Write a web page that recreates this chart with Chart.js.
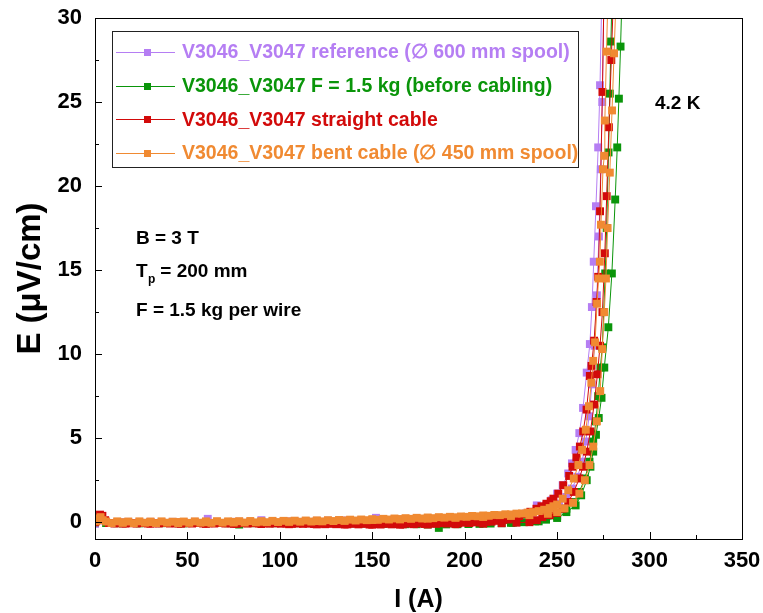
<!DOCTYPE html>
<html>
<head>
<meta charset="utf-8">
<script src="https://cdn.jsdelivr.net/npm/chart.js@4.4.1/dist/chart.umd.min.js"></script>
<style>
  html, body { margin: 0; padding: 0; background: #fff; }
  #wrap { width: 763px; height: 613px; position: relative; }
</style>
</head>
<body>
<div id="wrap"><canvas id="c" width="763" height="613"></canvas></div>
<script>
// Axis ticks
const xTicks = [0, 50, 100, 150, 200, 250, 300, 350];
const xMinorTicks = [25, 75, 125, 175, 225, 275, 325];
const yTicks = [0, 5, 10, 15, 20, 25, 30];
const yMinorTicks = [2.5, 7.5, 12.5, 17.5, 22.5, 27.5];

// Legend labels
const seriesLabels = [
  'V3046_V3047 reference (\u2205 600 mm spool)',
  'V3046_V3047 F = 1.5 kg (before cabling)',
  'V3046_V3047 straight cable',
  'V3046_V3047 bent cable (\u2205 450 mm spool)'
];

// Measured E-I curves, [I (A), E (uV/cm)]
const referenceA = [[0,-0.1],[1.5,0.1],[3,0.2],[6,0.02],[12,0.0],[18,0.02],[24,0.0],[30,0.02],[36,0.0],[42,0.02],[48,0.0],[54,0.02],[61,0.2],[66,0.02],[72,0.01],[78,0.03],[84,0.02],[90,0.12],[96,0.04],[102,0.05],[108,0.06],[114,0.07],[120,0.08],[126,0.09],[132,0.1],[138,0.11],[144,0.12],[152,0.26],[156,0.14],[162,0.16],[168,0.18],[174,0.2],[180,0.22],[186,0.24],[192,0.26],[198,0.29],[204,0.31],[210,0.34],[216,0.37],[222,0.41],[228,0.45],[233,0.52],[236,0.6],[239,1.0],[241,0.8],[244,1.0],[247,1.3],[250,1.7],[253,2.2],[256,2.9],[258,3.5],[260,4.3],[262,5.3],[264,6.8],[266,8.9],[267.7,10.6],[268.8,12.8],[269.8,15.5],[271,18.8],[272.2,22.3],[273.2,26],[274,30.5]];
const referenceB = [[0,0.0],[15,0.0],[30,0.01],[45,0.01],[60,0.02],[75,0.02],[90,0.03],[105,0.05],[120,0.07],[135,0.1],[150,0.12],[165,0.16],[180,0.2],[195,0.25],[210,0.31],[225,0.4],[235,0.5],[242,0.65],[247,0.85],[251,1.1],[255,1.5],[258,2.0],[261,2.7],[263.5,3.6],[265.5,4.8],[267.3,6.3],[268.8,8.2],[270.2,10.5],[271.5,13.5],[272.6,17],[273.6,21],[274.4,25],[275.2,30.5]];

const beforeCablingA = [[0,0.0],[2,0.15],[6,-0.05],[12,-0.06],[18,-0.05],[24,-0.07],[30,-0.05],[36,-0.06],[42,-0.05],[48,-0.07],[54,-0.05],[60,-0.06],[66,-0.05],[72,-0.06],[78,-0.14],[84,-0.06],[90,-0.05],[96,-0.06],[102,-0.05],[108,-0.06],[114,-0.05],[120,-0.06],[126,-0.05],[132,-0.06],[138,-0.07],[144,-0.08],[150,-0.1],[156,-0.1],[162,-0.11],[168,-0.12],[174,-0.12],[180,-0.13],[186,-0.34],[190,-0.13],[196,-0.12],[202,-0.11],[208,-0.1],[214,-0.08],[220,-0.06],[226,-0.03],[232,0.0],[238,0.05],[244,0.15],[250,0.35],[255,0.8],[259,1.2],[262,1.8],[265,2.6],[267.5,3.6],[269.5,4.8],[271,6.0],[272.2,7.5],[273.4,9.2],[274.4,10.4],[275.2,12.5],[276,14.8],[276.8,17.5],[277.8,22],[278.5,25.5],[279.1,28.6],[279.6,31]];
const beforeCablingB = [[0,0.0],[15,-0.06],[30,-0.05],[45,-0.06],[60,-0.05],[75,-0.06],[90,-0.05],[105,-0.06],[120,-0.07],[135,-0.08],[150,-0.1],[165,-0.11],[180,-0.12],[195,-0.11],[210,-0.08],[225,-0.04],[240,0.05],[250,0.25],[255,0.6],[260,1.0],[263,1.6],[266,2.5],[268,3.3],[269.5,4.2],[271,5.2],[272.5,6.2],[274,7.4],[275.5,9.2],[277.7,11.6],[279.6,14.8],[281.4,19.2],[282.5,22.3],[283.4,25.2],[284.3,28.3],[285,31]];

const straightA = [[0.5,0.05],[1.5,0.3],[2.7,0.45],[4,0.38],[5.5,0.12],[7.5,-0.05],[10.5,-0.08],[13.5,-0.05],[16.5,-0.08],[19.5,-0.06],[22.5,-0.08],[25.5,-0.05],[28.5,-0.08],[31.5,-0.06],[34.5,-0.08],[37.5,-0.05],[40.5,-0.08],[43.5,-0.06],[46.5,-0.09],[49.5,-0.06],[52.5,-0.08],[55.5,-0.05],[58.5,-0.08],[61.5,-0.06],[64.5,-0.08],[67.5,-0.05],[70.5,-0.08],[73.5,-0.06],[76.5,-0.1],[79.5,-0.06],[82.5,-0.08],[85.5,-0.06],[88.5,-0.08],[91.5,-0.06],[94.5,-0.09],[97.5,-0.07],[100.5,-0.09],[103.5,-0.08],[106.5,-0.1],[109.5,-0.08],[112.5,-0.1],[115.5,-0.09],[118.5,-0.11],[121.5,-0.09],[124.5,-0.12],[127.5,-0.1],[130.5,-0.12],[133.5,-0.1],[136.5,-0.13],[139.5,-0.1],[142.5,-0.13],[145.5,-0.1],[148.5,-0.14],[151.5,-0.11],[154.5,-0.14],[157.5,-0.1],[160.5,-0.13],[163.5,-0.1],[166.5,-0.13],[169.5,-0.09],[172.5,-0.12],[175.5,-0.08],[178.5,-0.11],[181.5,-0.07],[184.5,-0.1],[187.5,-0.06],[190.5,-0.08],[193.5,-0.05],[196.5,-0.07],[199.5,-0.03],[202.5,-0.05],[205.5,-0.01],[208.5,-0.02],[211.5,0.02],[214.5,0.03],[217.5,0.08],[220.5,0.12],[223.5,0.18],[226.5,0.26],[229.5,0.36],[232.5,0.48],[235.5,0.62],[238.8,0.8],[241.5,0.95],[244.2,1.1],[246.5,1.25],[248,1.4],[250.6,1.7],[253.3,2.2],[256.5,2.75],[258.3,3.3],[260.4,3.85],[262.3,4.5],[264.1,5.4],[265.9,6.7],[267.7,8.7],[268.6,9.3],[270,10.8],[271.3,13.1],[272.2,14.6],[273.2,18.5],[274.5,25.6],[275.2,30.5]];
const straightB = [[0,0.0],[15,-0.08],[30,-0.09],[45,-0.08],[60,-0.1],[75,-0.1],[90,-0.11],[105,-0.12],[120,-0.13],[135,-0.14],[150,-0.15],[165,-0.15],[180,-0.14],[195,-0.12],[210,-0.09],[220,-0.06],[228,-0.03],[235,0.0],[239,0.12],[242,0.3],[246,0.42],[250,0.55],[253,0.8],[256,1.2],[259,1.8],[262,2.6],[264,3.3],[266,4.2],[268,5.4],[270,7.0],[271.8,8.8],[273.2,10.5],[274.5,12.5],[275.8,16],[276.8,19.4],[278,23.5],[279.3,27.5],[280.2,30.5]];

const bentA = [[0.6,0.08],[1.8,0.22],[3.0,0.3],[4.2,0.12],[6,0.04],[9,-0.05],[12,0.05],[15,-0.04],[18,0.04],[21,-0.06],[24,0.05],[27,-0.03],[30,0.04],[33,-0.05],[36,0.05],[39,-0.03],[42,0.03],[45,-0.05],[48,0.04],[51,-0.04],[54,0.05],[57,-0.03],[60,0.05],[63,-0.04],[66,0.06],[69,-0.03],[72,0.05],[75,-0.02],[78,0.06],[81,-0.02],[84,0.07],[87,-0.01],[90,0.06],[93,0.0],[96,0.08],[99,0.01],[102,0.08],[105,0.02],[108,0.09],[111,0.03],[114,0.1],[117,0.04],[120,0.11],[123,0.05],[126,0.12],[129,0.07],[132,0.13],[135,0.08],[138,0.15],[141,0.1],[144,0.16],[147,0.12],[150,0.18],[153,0.14],[156,0.2],[159,0.16],[162,0.22],[165,0.18],[168,0.24],[171,0.2],[174,0.26],[177,0.22],[180,0.28],[183,0.24],[186,0.3],[189,0.27],[192,0.32],[195,0.29],[198,0.34],[201,0.32],[204,0.37],[207,0.35],[210,0.4],[213,0.38],[216,0.43],[219,0.42],[222,0.47],[225,0.46],[228,0.51],[231,0.52],[234,0.57],[237,0.6],[240,0.66],[243,0.74],[246,0.84],[248,0.95],[250,1.05],[253,1.4],[256,1.9],[259,2.6],[261.5,3.4],[263.5,4.3],[265.5,5.5],[267.2,6.9],[268.5,8.3],[269.5,9.6],[270.5,10.7],[271.6,13.0],[272.4,14.5],[273.1,15.5],[273.7,17.7],[274.8,21.0],[275.5,21.8],[275.8,23.9],[276.7,28.0],[277.3,30.5]];
const bentB = [[0,0.05],[15,0.0],[30,0.0],[45,0.01],[60,0.0],[75,0.02],[90,0.03],[105,0.05],[120,0.07],[135,0.1],[150,0.13],[165,0.17],[180,0.21],[195,0.26],[210,0.31],[225,0.37],[235,0.42],[245,0.5],[250,0.6],[254,0.82],[258.6,1.15],[262,1.7],[265,2.5],[267.5,3.4],[269.5,4.5],[271.5,6.0],[273.3,7.8],[274.4,10.3],[275.5,12.5],[276.4,14.5],[277.3,17.5],[278.5,20.8],[279.7,24.5],[280.8,27.9],[281.8,31]];

const PURPLE = '#b57ef3', GREEN = '#0a950a', RED = '#d20a0a', ORANGE = '#f08a32';
const seriesColors = [PURPLE, GREEN, RED, ORANGE];

const FONT = '"Liberation Sans", Arial, Helvetica, sans-serif';

function curve(points, color, order) {
  return {
    data: points.map(p => ({ x: p[0], y: p[1] })),
    showLine: true,
    borderColor: color,
    borderWidth: 1,
    backgroundColor: color,
    pointStyle: 'rect',
    pointRadius: 5.6,
    pointBorderWidth: 0,
    pointHoverRadius: 5.6,
    order: order
  };
}

const datasets = [
  curve(referenceA, PURPLE, 4), curve(referenceB, PURPLE, 4),
  curve(beforeCablingA, GREEN, 3), curve(beforeCablingB, GREEN, 3),
  curve(straightA, RED, 2), curve(straightB, RED, 2),
  curve(bentA, ORANGE, 1), curve(bentB, ORANGE, 1)
];

// Frame, inward tick marks, legend box and text notes
const decorations = {
  id: 'decorations',
  afterDraw(chart) {
    const { ctx, chartArea: a, scales: { x, y } } = chart;
    ctx.save();
    ctx.strokeStyle = '#000';
    ctx.lineWidth = 1;
    ctx.strokeRect(a.left + 0.5, a.top + 0.5, a.right - a.left, a.bottom - a.top);

    ctx.beginPath();
    const tick = (vals, len, horiz) => vals.forEach(v => {
      if (horiz) {
        const px = Math.round(x.getPixelForValue(v)) + 0.5;
        ctx.moveTo(px, a.bottom); ctx.lineTo(px, a.bottom - len);
      } else {
        const py = Math.round(y.getPixelForValue(v)) + 0.5;
        ctx.moveTo(a.left, py); ctx.lineTo(a.left + len, py);
      }
    });
    tick(xTicks, 7, true); tick(xMinorTicks, 4, true);
    tick(yTicks, 7, false); tick(yMinorTicks, 4, false);
    ctx.stroke();

    // legend
    const lx = 112, ly = 31, lw = 466, lh = 136;
    ctx.fillStyle = '#fff';
    ctx.fillRect(lx, ly, lw, lh);
    ctx.lineWidth = 1;
    ctx.strokeStyle = '#222';
    ctx.strokeRect(lx + 0.5, ly + 0.5, lw, lh);
    ctx.font = 'bold 19.5px ' + FONT;
    ctx.textBaseline = 'middle';
    ctx.textAlign = 'left';
    seriesLabels.forEach((label, i) => {
      const cy = 52 + i * 33.7;
      const c = seriesColors[i];
      ctx.strokeStyle = c;
      ctx.beginPath();
      ctx.moveTo(116, Math.round(cy) + 0.5); ctx.lineTo(175, Math.round(cy) + 0.5);
      ctx.stroke();
      ctx.fillStyle = c;
      ctx.fillRect(144, Math.round(cy) - 3, 7, 7);
      ctx.fillText(label, 182, cy + 1);
    });

    // notes
    ctx.fillStyle = '#000';
    ctx.font = 'bold 19px ' + FONT;
    ctx.fillText('4.2 K', 655, 104);
    ctx.fillText('B = 3 T', 136, 239);
    ctx.fillText('T', 136, 272);
    ctx.font = 'bold 12px ' + FONT;
    ctx.fillText('p', 148, 280);
    ctx.font = 'bold 19px ' + FONT;
    ctx.fillText(' = 200 mm', 155, 272);
    ctx.fillText('F = 1.5 kg per wire', 136, 311);
    ctx.restore();
  }
};

new Chart(document.getElementById('c'), {
  type: 'scatter',
  data: { datasets },
  options: {
    responsive: false,
    animation: false,
    events: [],
    layout: { padding: { top: 18, right: 21, left: 0, bottom: 0 } },
    plugins: { legend: { display: false }, tooltip: { enabled: false } },
    scales: {
      x: {
        type: 'linear', min: 0, max: 350,
        grid: { display: false, drawTicks: false },
        border: { display: false },
        afterBuildTicks: s => { s.ticks = xTicks.map(v => ({ value: v })); },
        afterFit: s => { s.height = 74; s.paddingLeft = 0; s.paddingRight = 0; },
        ticks: { color: '#000', padding: 9, font: { family: FONT, size: 22, weight: 'bold' } },
        title: { display: true, text: 'I (A)', color: '#000', padding: { top: 0, bottom: 0 }, font: { family: FONT, size: 25, weight: 'bold', lineHeight: 1.05 } }
      },
      y: {
        type: 'linear', min: -1, max: 30,
        grid: { display: false, drawTicks: false },
        border: { display: false },
        afterBuildTicks: s => { s.ticks = yTicks.map(v => ({ value: v })); },
        afterFit: s => { s.width = 95; s.paddingTop = 0; s.paddingBottom = 0; },
        ticks: { color: '#000', padding: 13, font: { family: FONT, size: 22, weight: 'bold' } },
        title: { display: true, text: 'E (\u03bcV/cm)', color: '#000', padding: { top: 11, bottom: 0 }, font: { family: FONT, size: 33, weight: 'bold' } }
      }
    }
  },
  plugins: [decorations]
});
</script>
</body>
</html>
